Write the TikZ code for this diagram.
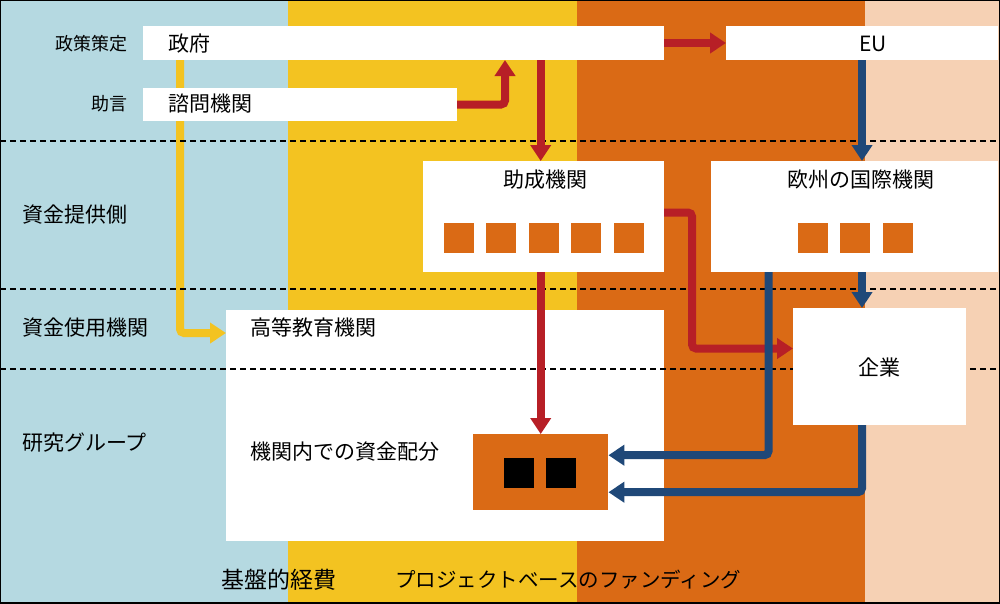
\documentclass[tikz,border=0pt]{standalone}
\usepackage{fontspec}
\setmainfont{Noto Sans CJK JP}
\usetikzlibrary{arrows.meta}
\definecolor{bandblue}{HTML}{B5D9E1}
\definecolor{bandyellow}{HTML}{F3C321}
\definecolor{bandorange}{HTML}{DA6A15}
\definecolor{bandpeach}{HTML}{F6D1B4}
\definecolor{redflow}{HTML}{B71F26}
\definecolor{blueflow}{HTML}{1F4878}
\tikzset{
  box/.style={fill=white,inner sep=0pt,outer sep=0pt},
  sq/.style={fill=bandorange,minimum size=30pt,inner sep=0pt},
  blk/.style={fill=black,minimum size=30pt,inner sep=0pt},
  flow/.style={line width=8pt,rounded corners=4pt,-{Triangle[width=20pt,length=16pt]}},
  txt/.style={inner sep=0pt,font=\fontsize{21}{24}\selectfont},
  side/.style={inner sep=0pt,font=\fontsize{18}{22}\selectfont},
}
\begin{document}
\begin{tikzpicture}[x=1pt,y=-1pt]
  \useasboundingbox (0,0) rectangle (1000,603);
  % bands
  \fill[bandblue] (0,0) rectangle (288,603);
  \fill[bandyellow] (288,0) rectangle (577,603);
  \fill[bandorange] (577,0) rectangle (865,603);
  \fill[bandpeach] (865,0) rectangle (1000,603);
  % boxes
  \path (143,26) coordinate (gsw);
  \node[box,minimum width=438pt,minimum height=231pt,anchor=north west] (he) at (226,310) {};
  \draw[flow,bandyellow] ([xshift=37pt,yshift=-34pt]gsw) |- ([yshift=-23pt]he.north west);
  \node[box,minimum width=521pt,minimum height=34pt,anchor=north west] (gov) at (143,26) {};
  \node[box,minimum width=314pt,minimum height=33pt,anchor=north west] (adv) at (143,88) {};
  \node[box,minimum width=272pt,minimum height=34pt,anchor=north west] (eu) at (726,26) {};
  \node[box,minimum width=241pt,minimum height=111pt,anchor=north west] (fund) at (423,161) {};
  \node[box,minimum width=287pt,minimum height=111pt,anchor=north west] (euro) at (711,161) {};
  % levels
  \foreach \y in {141,289,369}
    \draw[dashed,line width=1.3pt,dash pattern=on 6pt off 4pt] (0,\y) -- (1000,\y);
  \node[box,minimum width=173pt,minimum height=117pt,anchor=north west] (comp) at (793,308) {};
  \node[sq,minimum width=135pt,minimum height=76pt,anchor=north west] (inner) at (473,434) {};
  \foreach \x [count=\i] in {459,501,544,586,629}
    \node[sq] (f\i) at (\x,238) {};
  \foreach \x [count=\i] in {813,855,898}
    \node[sq] (e\i) at (\x,238) {};
  \node[blk] (k1) at (519,473) {};
  \node[blk] (k2) at (561,473) {};
  % texts
  \node[txt,anchor=west] (govt) at (168,44) {政府};
  \node[txt,anchor=west] (advt) at (168,104) {諮問機関};
  \node[txt] (eut) at (873,44) {EU};
  \node[txt] (fundt) at (545,180) {助成機関};
  \node[txt] (eurot) at (861,180) {欧州の国際機関};
  \node[txt,anchor=west] (het) at (250,327) {高等教育機関};
  \node[txt,anchor=west] (allot) at (250,452) {機関内での資金配分};
  \node[txt] (compt) at (879,367) {企業};
  \node[side,anchor=east] (l1) at (128,44) {政策策定};
  \node[side,anchor=east] (l2) at (128,104) {助言};
  \node[txt,anchor=west] (l3) at (22,215) {資金提供側};
  \node[txt,anchor=west] (l4) at (22,328) {資金使用機関};
  \node[txt,anchor=west] (l5) at (22,443) {研究グループ};
  \node[inner sep=0pt,font=\fontsize{23}{26}\selectfont] (b1) at (279,580) {基盤的経費};
  \node[inner sep=0pt,font=\fontsize{20.5}{24}\selectfont,anchor=west] (b2) at (395,580) {プロジェクトベースのファンディング};
  % flows
  \draw[flow,redflow] (gov) -- (eu);
  \draw[flow,redflow] (adv.east) -- ++(48,0) coordinate (a1) -- (a1 |- gov.south);
  \draw[flow,redflow] (inner.north |- gov.south) -- (inner.north |- fund.north);
  \draw[flow,redflow] (inner.north |- fund.south) -- (inner.north);
  \draw[flow,redflow] ([yshift=4pt]fund.east) -- ++(28,0) |- ([yshift=18pt]comp.west);
  \draw[flow,blueflow] (eu.south) -- (eu.south |- euro.north);
  \draw[flow,blueflow] (eu.south |- euro.south) -- (eu.south |- comp.north);
  \draw[flow,blueflow] ([xshift=-86pt]euro.south) |- ([yshift=17pt]inner.east);
  \draw[flow,blueflow] (eu.south |- comp.south) |- ([yshift=-20pt]inner.east);
  % frame
  \draw[line width=2pt] (0,0) rectangle (1000,603);
\end{tikzpicture}
\end{document}
